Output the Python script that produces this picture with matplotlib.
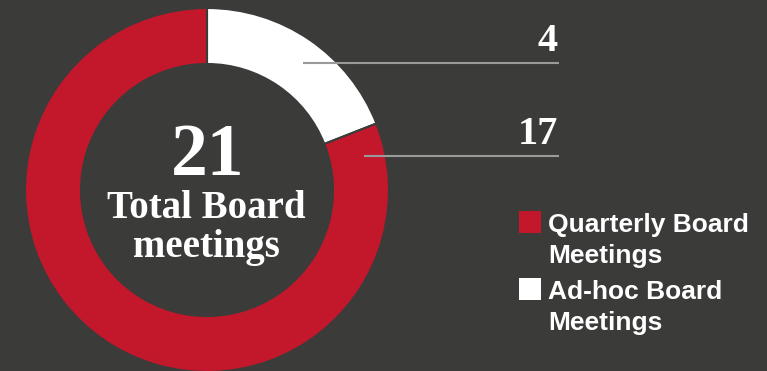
import matplotlib.pyplot as plt

# Board meeting split
categories = ['Ad-hoc Board\nMeetings', 'Quarterly Board\nMeetings']
meetings = [4, 17]
colors = ['#ffffff', '#c3172b']
bg = '#3b3b3a'

W, H = 767, 371
fig = plt.figure(figsize=(W / 100, H / 100), dpi=100, facecolor=bg)
ax = fig.add_axes([0, 0, 1, 1])
ax.set_facecolor(bg)

# donut, drawn in pixel-like coordinates (y up)
cx, cy, r = 207, H - 190, 182
ax.pie(meetings, colors=colors, startangle=90, counterclock=False,
       center=(cx, cy), radius=r,
       wedgeprops=dict(width=56, edgecolor=bg, linewidth=1.5))

ax.set_xlim(0, W)
ax.set_ylim(0, H)
ax.set_aspect('equal')
ax.axis('off')

# value callouts
serif = 'Liberation Serif'
callouts = [(303, H - 63), (364, H - 156)]
for (x0, y0), v in zip(callouts, meetings):
    ax.plot([x0, 559], [y0, y0], color='#9a9a9a', lw=1.5, solid_capstyle='butt')
    ax.text(558, y0 + 12, str(v), ha='right', va='baseline', color='white',
            fontsize=29, fontweight='bold', family=serif)

# centre label
ax.text(cx + 1, H - 175, str(sum(meetings)), ha='center', va='baseline',
        color='white', fontsize=53, fontweight='bold', family=serif)
ax.text(cx - 1, H - 218, 'Total Board', ha='center', va='baseline',
        color='white', fontsize=28, fontweight='bold', family=serif)
ax.text(cx - 1, H - 257, 'meetings', ha='center', va='baseline',
        color='white', fontsize=28, fontweight='bold', family=serif)

# legend (quarterly first), one text per line
legend_rows = [(H - 233, 1), (H - 300, 0)]
for y, i in legend_rows:
    ax.add_patch(plt.Rectangle((519, y), 22, 22, color=colors[i], lw=0))
    for k, line in enumerate(categories[i].split('\n')):
        ax.text(548, y + 1 - 31 * k, line, ha='left', va='baseline',
                color='white', fontsize=19, fontweight='bold',
                family='Liberation Sans')

fig.savefig('out.png', dpi=100, facecolor=bg)
